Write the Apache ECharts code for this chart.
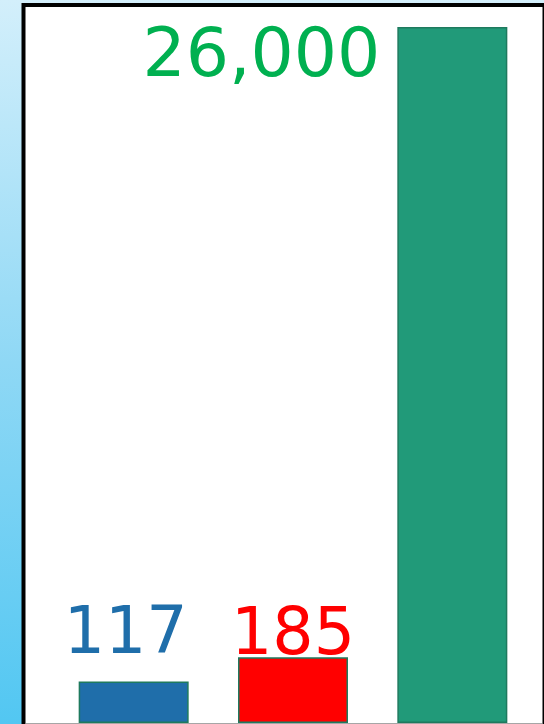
<!DOCTYPE html>
<html>
<head>
<meta charset="utf-8">
<script src="https://cdn.jsdelivr.net/npm/echarts@6/dist/echarts.min.js"></script>
<style>
  html, body { margin: 0; padding: 0; }
  #chart { width: 544px; height: 724px; }
</style>
</head>
<body>
<div id="chart"></div>
<script>
  // data
  const categories = ["A", "B", "C"]
  const values = [117, 185, 26000]

  // styling, kept apart from the data
  const barColors = ["#1f6eaa", "#ff0000", "#219a79"]
  const labelColors = ["#1f6eaa", "#ff0000", "#00b050"]

  const font = "'DejaVu Sans', sans-serif"
  const fmt = v => v.toLocaleString("en-US")

  const labelFor = i => {
    if (i === 2) {
      return {
        show: true, position: [-17, -3], align: "right", verticalAlign: "top",
        color: labelColors[i], fontSize: 68, fontFamily: font, formatter: p => fmt(p.value)
      }
    }
    return {
      show: true, position: "top", distance: i === 0 ? 13 : -12, offset: i === 0 ? [-8, 0] : [0, 0],
      color: labelColors[i], fontSize: 65, fontFamily: font, formatter: p => fmt(p.value)
    }
  }

  const chart = echarts.init(document.getElementById("chart"))

  chart.setOption({
    animation: false,
    backgroundColor: {
      type: "linear", x: 0, y: 0, x2: 0, y2: 1,
      colorStops: [
        { offset: 0, color: "#d3effb" },
        { offset: 0.5, color: "#8fd8f5" },
        { offset: 1, color: "#52c7f2" }
      ]
    },
    graphic: [
      {
        type: "rect", z: 0,
        shape: { x: 23.5, y: 5, width: 521, height: 740 },
        style: { fill: "#ffffff", stroke: "#000000", lineWidth: 4 }
      },
      {
        type: "line", z: 10,
        shape: { x1: 26, y1: 723.5, x2: 542, y2: 723.5 },
        style: { stroke: "#a6a6a6", lineWidth: 1 }
      }
    ],
    grid: { left: 54, right: 12, top: 27, bottom: 1 },
    xAxis: {
      type: "category",
      data: categories,
      show: false
    },
    yAxis: {
      type: "value",
      min: 0,
      max: 26000,
      show: false,
      breaks: [{ start: 200, end: 25800, gap: 1560 }],
      breakArea: { show: false }
    },
    series: [
      {
        type: "bar",
        barWidth: 110,
        z: 5,
        data: values.map((v, i) => ({
          value: v,
          itemStyle: { color: barColors[i], borderColor: "#1e7a5e", borderWidth: 1.5 },
          label: labelFor(i)
        }))
      }
    ]
  })
</script>
</body>
</html>
